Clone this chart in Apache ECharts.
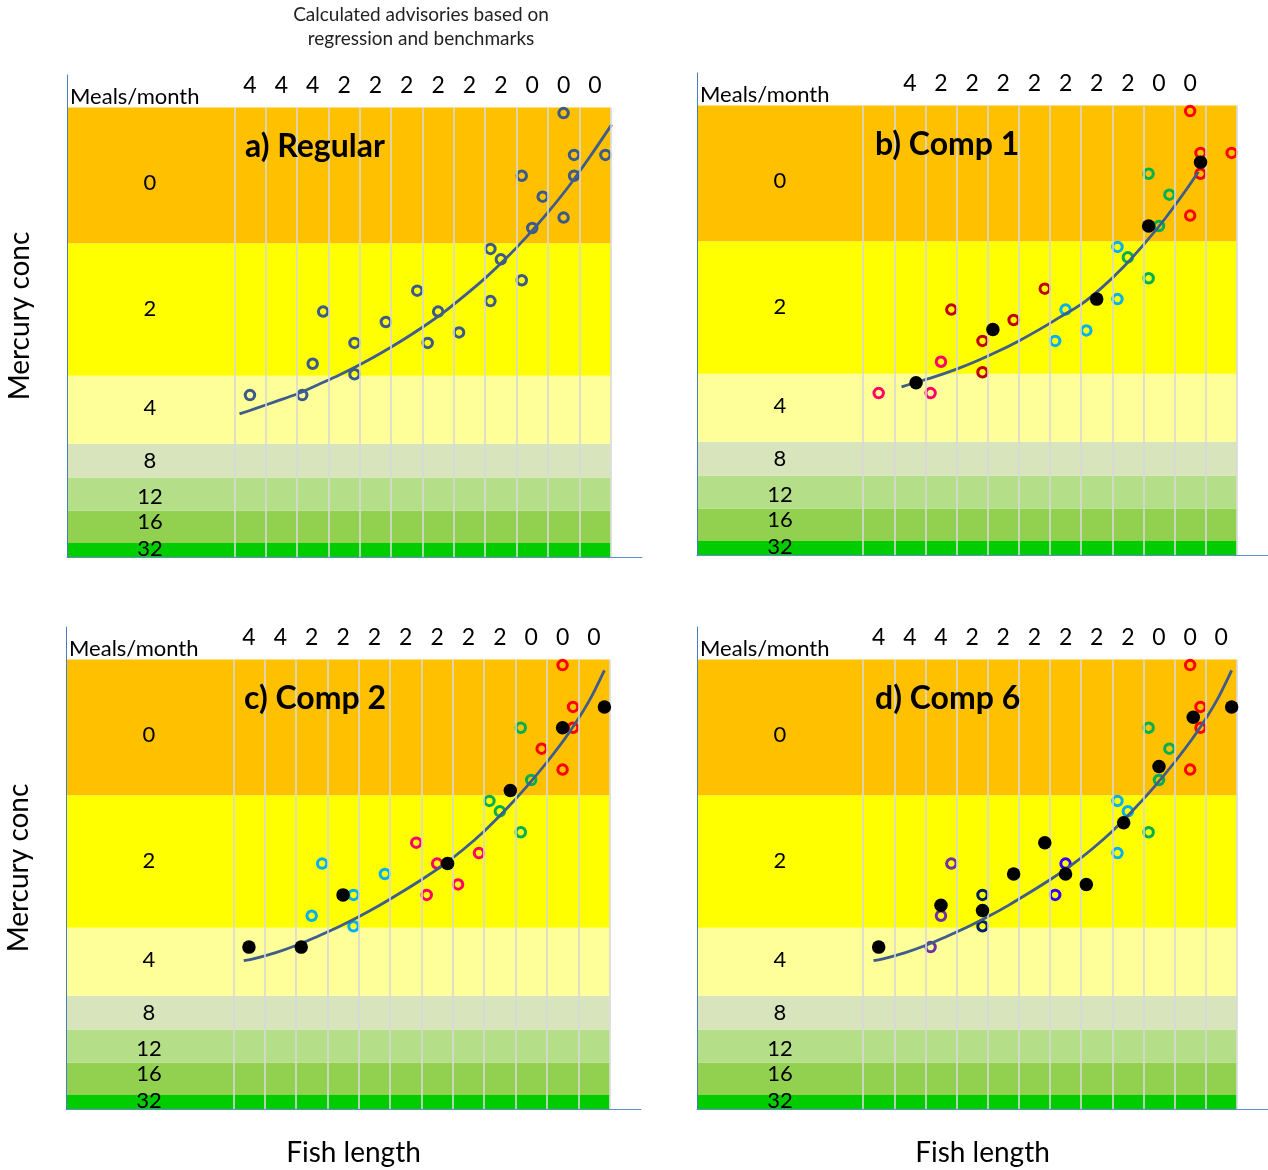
<!DOCTYPE html>
<html>
<head>
<meta charset="utf-8">
<script src="https://cdn.jsdelivr.net/npm/echarts@6/dist/echarts.min.js"></script>
<style>
  html, body { margin: 0; padding: 0; background: #ffffff; }
  #chart { width: 1268px; height: 1170px; }
</style>
</head>
<body>
<div id="chart"></div>
<script>
// ---- shared scales: fish-length columns and mercury advisory bands ----
const columnEdges = [16, 19, 22, 25, 28, 31, 34, 37, 40, 43, 46, 49, 52];
const bandBounds  = [0, 1.35, 4.45, 7.6, 10.85, 17.35, 30.05, 43.05];
const bandMeals   = ['32', '16', '12', '8', '4', '2', '0'];
const bandLabelAt = [0.75, 3.35, 5.8, 9.2, 14.25, 23.75, 35.8];

// meals/month advisory written above each length column
const mealsRegular = ['4', '4', '4', '2', '2', '2', '2', '2', '2', '0', '0', '0'];
const mealsComp1   = ['', '4', '2', '2', '2', '2', '2', '2', '2', '0', '0', ''];
const mealsComp2   = ['4', '4', '2', '2', '2', '2', '2', '2', '2', '0', '0', '0'];
const mealsComp6   = ['4', '4', '4', '2', '2', '2', '2', '2', '2', '0', '0', '0'];

// a) Regular: individual fish [length, mercury]
const regularFish = [[17.5, 15.5], [22.5, 15.5], [23.5, 18.5], [24.5, 23.5], [27.5, 17.5], [27.5, 20.5],
  [30.5, 22.5], [33.5, 25.5], [34.5, 20.5], [35.5, 23.5], [37.5, 21.5], [40.5, 24.5], [40.5, 29.5],
  [41.5, 28.5], [43.5, 26.5], [43.5, 36.5], [44.5, 31.5], [45.5, 34.5], [47.5, 32.5], [47.5, 42.5],
  [48.5, 36.5], [48.5, 38.5], [51.5, 38.5]];
const regularCurve = [[16.5, 13.7], [18, 14.2], [20, 14.9], [22, 15.6], [24, 16.5], [26, 17.4], [28, 18.4],
  [30, 19.5], [32, 20.7], [34, 22.0], [36, 23.4], [38, 25.0], [40, 26.7], [42, 28.6], [44, 30.7],
  [46, 33.0], [48, 35.5], [50, 38.3], [52.1, 41.4]];

// b) Comp 1
const comp1Pink    = [[17.5, 15.5], [22.5, 15.5], [23.5, 18.5]];
const comp1DarkRed = [[24.5, 23.5], [27.5, 20.5], [27.5, 17.5], [30.5, 22.5], [33.5, 25.5]];
const comp1Cyan    = [[34.5, 20.5], [35.5, 23.5], [37.5, 21.5], [40.5, 24.5], [40.5, 29.5]];
const comp1Green   = [[41.5, 28.5], [43.5, 26.5], [44.5, 31.5], [45.5, 34.5], [43.5, 36.5]];
const comp1Red     = [[47.5, 32.5], [48.5, 36.5], [48.5, 38.5], [51.5, 38.5], [47.5, 42.5]];
const comp1Means   = [[21.1, 16.5], [28.5, 21.6], [38.5, 24.5], [43.5, 31.5], [48.5, 37.6]];
const comp1Curve   = [[19.7, 16.1], [21, 16.5], [23, 17.1], [25, 17.8], [27, 18.6], [29, 19.5], [31, 20.5],
  [33, 21.6], [35, 22.8], [37, 24.0], [39, 25.6], [41, 27.5], [43, 29.7], [45, 32.1], [47, 34.8], [48.3, 36.7]];

// c) Comp 2
const comp2Cyan  = [[23.5, 18.5], [24.5, 23.5], [27.5, 20.5], [27.5, 17.5], [30.5, 22.5]];
const comp2Pink  = [[33.5, 25.5], [34.5, 20.5], [35.5, 23.5], [37.5, 21.5], [39.5, 24.5]];
const comp2Green = [[40.5, 29.5], [41.5, 28.5], [43.5, 26.5], [44.5, 31.5], [43.5, 36.5]];
const comp2Red   = [[45.5, 34.5], [47.5, 32.5], [48.5, 36.5], [48.5, 38.5], [47.5, 42.5]];
const comp2Means = [[17.5, 15.5], [22.5, 15.5], [26.5, 20.5], [36.5, 23.5], [42.5, 30.5], [47.5, 36.5], [51.5, 38.5]];
const comp2Curve = [[17, 14.2], [18, 14.4], [20, 14.95], [22, 15.65], [24, 16.5], [26, 17.4], [28, 18.4],
  [30, 19.5], [32, 20.7], [34, 21.95], [36, 23.3], [38, 24.85], [40, 26.6], [42, 28.6], [44, 30.8],
  [46, 33.2], [48, 35.85], [50, 39.0], [51.5, 42.0]];

// d) Comp 6
const comp6Purple = [[22.5, 15.5], [23.5, 18.5], [24.5, 23.5]];
const comp6Navy   = [[27.5, 20.5], [27.5, 17.5]];
const comp6Blue   = [[34.5, 20.5], [35.5, 23.5]];
const comp6Cyan   = [[40.5, 29.5], [41.5, 28.5], [40.5, 24.5]];
const comp6Green  = [[43.5, 26.5], [44.5, 31.5], [45.5, 34.5], [43.5, 36.5]];
const comp6Red    = [[47.5, 32.5], [48.5, 36.5], [48.5, 38.5], [47.5, 42.5]];
const comp6Means  = [[17.5, 15.5], [23.5, 19.5], [27.5, 19.0], [30.5, 22.5], [33.5, 25.5], [35.5, 22.5],
  [37.5, 21.5], [41.1, 27.4], [44.5, 32.8], [47.8, 37.5], [51.5, 38.5]];
const comp6Curve  = [[17, 14.2], [18, 14.4], [20, 14.95], [22, 15.65], [24, 16.5], [26, 17.4], [28, 18.4],
  [30, 19.5], [32, 20.7], [34, 21.95], [36, 23.3], [38, 24.85], [40, 26.6], [42, 28.6], [44, 30.8],
  [46, 33.2], [48, 35.85], [50, 39.0], [51.5, 42.0]];

// ---- styling ----
const FONT = 'Lato';
const bandColors = ['#00CC00', '#92D050', '#B4DE88', '#D8E4BC', '#FFFF99', '#FFFF00', '#FFC000'];
const COL = {
  slate: '#3B5A8A', pink: '#FF0066', darkRed: '#C00000', cyan: '#00B0F0', green: '#00B050',
  red: '#FF0000', purple: '#7030A0', navy: '#002060', blue: '#3300FF', black: '#000000'
};
const X_MAX = 55, Y_MAX = 46.15;

const panels = [
  { left: 67,  top: 75,  title: 'a) Regular', meals: mealsRegular, curve: regularCurve, yName: true,  xName: false,
    groups: [[regularFish, COL.slate]], means: null },
  { left: 697, top: 73,  title: 'b) Comp 1', meals: mealsComp1, curve: comp1Curve, yName: false, xName: false,
    groups: [[comp1Pink, COL.pink], [comp1DarkRed, COL.darkRed], [comp1Cyan, COL.cyan], [comp1Green, COL.green], [comp1Red, COL.red]],
    means: comp1Means },
  { left: 66,  top: 627, title: 'c) Comp 2', meals: mealsComp2, curve: comp2Curve, yName: true,  xName: true,
    groups: [[comp2Cyan, COL.cyan], [comp2Pink, COL.pink], [comp2Green, COL.green], [comp2Red, COL.red]],
    means: comp2Means },
  { left: 697, top: 627, title: 'd) Comp 6', meals: mealsComp6, curve: comp6Curve, yName: false, xName: true,
    groups: [[comp6Purple, COL.purple], [comp6Navy, COL.navy], [comp6Blue, COL.blue], [comp6Cyan, COL.cyan],
             [comp6Green, COL.green], [comp6Red, COL.red]],
    means: comp6Means }
];

const colCenters = columnEdges.slice(0, -1).map((e, i) => (e + columnEdges[i + 1]) / 2);
const bandTop = bandBounds[bandBounds.length - 1];
const bandRight = columnEdges[columnEdges.length - 1];

const grid = [], xAxis = [], yAxis = [], series = [], graphic = [];

panels.forEach((p, gi) => {
  grid.push({ left: p.left, top: p.top, width: 575, height: 482, containLabel: false });

  const labelled = colCenters.map((c, i) => ({ c, t: p.meals[i] })).filter(d => d.t !== '');
  // bottom axis: fish length
  xAxis.push({
    gridIndex: gi, type: 'value', min: 0, max: X_MAX, position: 'bottom', z: 10,
    axisLine: { show: true, onZero: false, lineStyle: { color: '#5B8FD0', width: 1 } },
    axisTick: { show: false }, axisLabel: { show: false }, splitLine: { show: false },
    name: p.xName ? 'Fish length' : '', nameLocation: 'middle', nameGap: 30,
    nameTextStyle: { fontFamily: FONT, fontSize: 28, color: '#000' }
  });
  // top axis: meals/month per length column
  xAxis.push({
    gridIndex: gi, type: 'value', min: 0, max: X_MAX, position: 'top', z: 10,
    axisLine: { show: false }, axisTick: { show: false }, splitLine: { show: false },
    axisLabel: {
      show: true, inside: true, margin: 11, verticalAlign: 'middle',
      customValues: labelled.map(d => d.c),
      formatter: v => { const d = labelled.find(e => Math.abs(e.c - v) < 1e-6); return d ? d.t : ''; },
      fontFamily: FONT, fontSize: 23, color: '#000'
    }
  });
  // mercury concentration with advisory band labels
  yAxis.push({
    gridIndex: gi, type: 'value', min: 0, max: Y_MAX, z: 10,
    axisLine: { show: true, lineStyle: { color: '#4A7EBB', width: 1 } },
    axisTick: { show: false }, splitLine: { show: false },
    axisLabel: {
      show: true, inside: true, margin: 83, align: 'center', verticalAlign: 'middle',
      customValues: bandLabelAt,
      formatter: v => { const i = bandLabelAt.findIndex(b => Math.abs(b - v) < 1e-6); return i >= 0 ? bandMeals[i] : ''; },
      fontFamily: FONT, fontSize: 22, color: '#000'
    },
    name: p.yName ? 'Mercury conc' : '', nameLocation: 'middle', nameGap: 33, nameRotate: 90,
    nameTextStyle: { fontFamily: FONT, fontSize: 28, color: '#000' }
  });

  const xi = gi * 2, yi = gi;
  // advisory bands
  series.push({
    type: 'scatter', xAxisIndex: xi, yAxisIndex: yi, data: [], z: 1, silent: true,
    markArea: {
      silent: true, label: { show: false },
      data: bandMeals.map((m, i) => [
        { coord: [0, bandBounds[i]], itemStyle: { color: bandColors[i], opacity: 1 } },
        { coord: [bandRight, bandBounds[i + 1]] }
      ])
    }
  });
  // column dividers
  series.push({
    type: 'scatter', xAxisIndex: xi, yAxisIndex: yi, data: [], z: 2, silent: true,
    markLine: {
      silent: true, symbol: ['none', 'none'], label: { show: false },
      lineStyle: { color: '#D9D9D9', width: 1.6, type: 'solid', opacity: 1 },
      data: columnEdges.map(x => [{ coord: [x, 0] }, { coord: [x, bandTop] }])
    }
  });
  // individual fish, hollow markers by group
  p.groups.forEach(([pts, color]) => {
    series.push({
      type: 'scatter', xAxisIndex: xi, yAxisIndex: yi, data: pts, z: 3,
      symbol: 'circle', symbolSize: 9.5,
      itemStyle: { color: 'rgba(0,0,0,0)', borderColor: color, borderWidth: 3, opacity: 1 }
    });
  });
  // regression curve
  series.push({
    type: 'line', xAxisIndex: xi, yAxisIndex: yi, data: p.curve, z: 4,
    smooth: 0.3, showSymbol: false, symbol: 'none',
    lineStyle: { color: '#3E5C8C', width: 2.8 }
  });
  // composite means
  if (p.means) {
    series.push({
      type: 'scatter', xAxisIndex: xi, yAxisIndex: yi, data: p.means, z: 5,
      symbol: 'circle', symbolSize: 13.5, itemStyle: { color: COL.black, opacity: 1 }
    });
  }

  // panel titles
  graphic.push({
    type: 'text', x: p.left + 178, y: p.top + 72, z: 10,
    style: { text: p.title, font: 'bold 32px ' + FONT, fill: '#000', align: 'left', verticalAlign: 'middle' }
  });
  graphic.push({
    type: 'text', x: p.left + 3, y: p.top + 22, z: 10,
    style: { text: 'Meals/month', font: '22px ' + FONT, fill: '#000', align: 'left', verticalAlign: 'middle' }
  });
});

graphic.push({
  type: 'text', x: 421, y: 15, z: 10,
  style: { text: 'Calculated advisories based on', font: '19px ' + FONT, fill: '#222', align: 'center', verticalAlign: 'middle' }
});
graphic.push({
  type: 'text', x: 421, y: 39, z: 10,
  style: { text: 'regression and benchmarks', font: '19px ' + FONT, fill: '#222', align: 'center', verticalAlign: 'middle' }
});

const chart = echarts.init(document.getElementById('chart'), null, { renderer: 'canvas' });
chart.setOption({
  animation: false,
  backgroundColor: '#ffffff',
  textStyle: { fontFamily: FONT },
  grid, xAxis, yAxis, series, graphic
});
</script>
</body>
</html>
